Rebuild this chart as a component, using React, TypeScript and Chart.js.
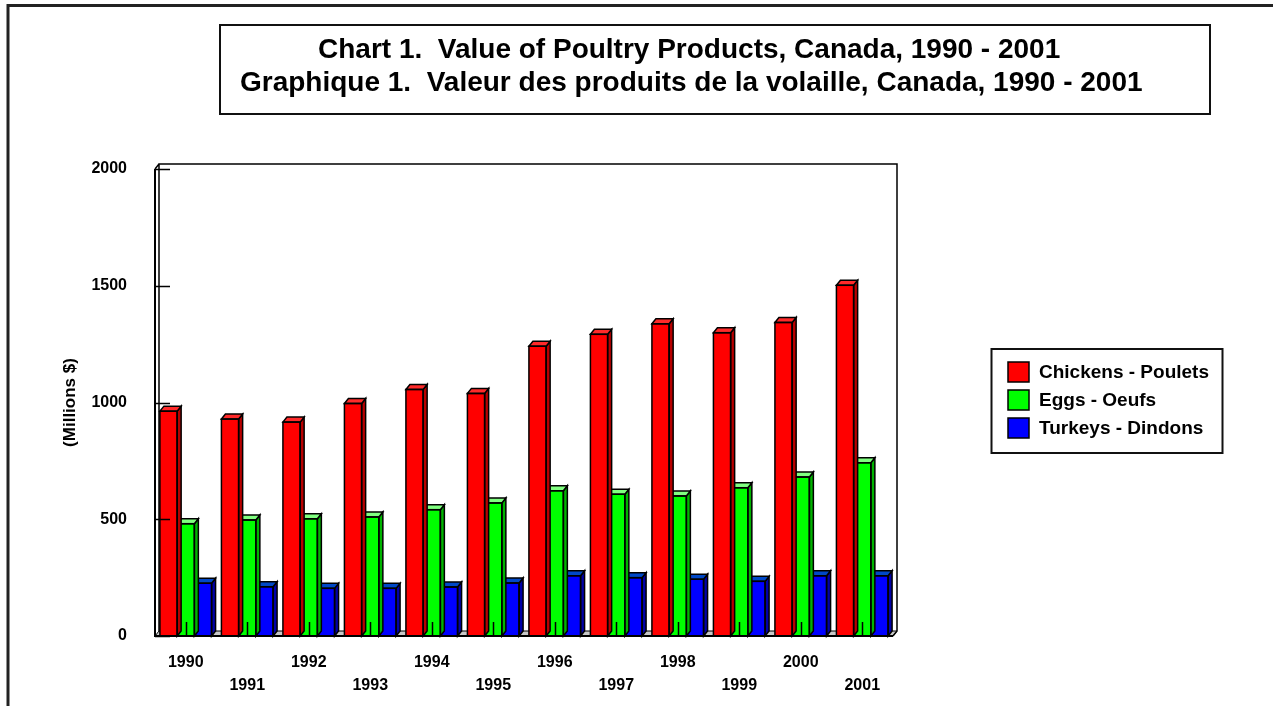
import React, { useEffect, useRef } from "react";
import { Chart, registerables } from "chart.js";

Chart.register(...registerables);

const years = ["1990", "1991", "1992", "1993", "1994", "1995", "1996", "1997", "1998", "1999", "2000", "2001"];
const chickens = [963, 929, 916, 996, 1056, 1039, 1241, 1292, 1337, 1299, 1343, 1502];
const eggs = [481, 497, 502, 510, 541, 570, 622, 607, 600, 635, 681, 742];
const turkeys = [226, 211, 204, 204, 210, 227, 258, 250, 243, 234, 258, 258];
const yTicks = [0, 500, 1000, 1500, 2000];
const seriesNames = ["Chickens - Poulets", "Eggs - Oeufs", "Turkeys - Dindons"];
const titleLines = [
  "Chart 1.  Value of Poultry Products, Canada, 1990 - 2001",
  "Graphique 1.  Valeur des produits de la volaille, Canada, 1990 - 2001",
];
const yTitle = "(Millions $)";

const FRONT = ["#ff0000", "#00ff00", "#0000ff"];
const TOP = ["#ff2a2a", "#80ff80", "#0048c8"];
const SIDE = ["#b80000", "#00b400", "#0000a8"];
const FONT = '"Liberation Sans", Arial, Helvetica, sans-serif';
const DX = 4;
const DY = 5;

function poly(ctx: CanvasRenderingContext2D, pts: number[][], fill: string) {
  ctx.beginPath();
  ctx.moveTo(pts[0][0], pts[0][1]);
  for (let i = 1; i < pts.length; i++) ctx.lineTo(pts[i][0], pts[i][1]);
  ctx.closePath();
  ctx.fillStyle = fill;
  ctx.fill();
  ctx.stroke();
}

const decoPlugin = {
  id: "deco3d",
  beforeDatasetsDraw(chart: any) {
    const { ctx, chartArea: a } = chart;
    ctx.save();
    ctx.strokeStyle = "#000";
    ctx.lineWidth = 1;
    poly(ctx, [[a.left, a.bottom], [a.left + DX, a.bottom - DY], [a.right + DX, a.bottom - DY], [a.right, a.bottom]], "#c8c8c8");
    ctx.lineWidth = 1.5;
    ctx.beginPath();
    ctx.moveTo(a.left + DX, a.bottom - DY);
    ctx.lineTo(a.left + DX, a.top - DY);
    ctx.lineTo(a.right + DX, a.top - DY);
    ctx.lineTo(a.right + DX, a.bottom - DY);
    ctx.lineTo(a.right, a.bottom);
    ctx.moveTo(a.left, a.top);
    ctx.lineTo(a.left + DX, a.top - DY);
    ctx.stroke();
    ctx.restore();
  },
  afterDatasetDraw(chart: any, args: any) {
    const { ctx } = chart;
    const idx = args.index;
    ctx.save();
    ctx.strokeStyle = "#000";
    ctx.lineWidth = 1.5;
    ctx.lineJoin = "miter";
    args.meta.data.forEach((el: any) => {
      const { x, y, base, width } = el.getProps(["x", "y", "base", "width"], true);
      const l = x - width / 2;
      const r = x + width / 2;
      poly(ctx, [[r, y], [r + DX, y - DY], [r + DX, base - DY], [r, base]], SIDE[idx]);
      poly(ctx, [[l, y], [l + DX, y - DY], [r + DX, y - DY], [r, y]], TOP[idx]);
      ctx.strokeRect(l, y, width, base - y);
    });
    ctx.restore();
  },
  afterDatasetsDraw(chart: any) {
    const { ctx, chartArea: a, scales } = chart;
    ctx.save();
    ctx.strokeStyle = "#000";
    ctx.lineWidth = 2;
    ctx.beginPath();
    ctx.moveTo(a.left, a.top);
    ctx.lineTo(a.left, a.bottom);
    ctx.lineTo(a.right, a.bottom);
    ctx.stroke();
    ctx.lineWidth = 1.5;
    ctx.beginPath();
    yTicks.forEach((v) => {
      const py = Math.round(scales.y.getPixelForValue(v)) + 0.5;
      ctx.moveTo(a.left, py);
      ctx.lineTo(a.left + 15, py);
    });
    years.forEach((_, i) => {
      const px = Math.round(scales.x.getPixelForTick(i)) + 0.5;
      ctx.moveTo(px, a.bottom);
      ctx.lineTo(px, a.bottom - 14);
    });
    ctx.stroke();
    ctx.restore();
  },
  afterDraw(chart: any) {
    const { ctx } = chart;
    ctx.save();
    ctx.strokeStyle = "#222";
    ctx.lineWidth = 3;
    ctx.strokeRect(8, 5.5, 1400, 1000);
    ctx.lineWidth = 2;
    ctx.strokeStyle = "#111";
    ctx.strokeRect(220, 25, 990, 89);
    ctx.fillStyle = "#000";
    ctx.font = `bold 28px ${FONT}`;
    ctx.textBaseline = "middle";
    ctx.textAlign = "left";
    ctx.fillText(titleLines[0], 318, 50);
    ctx.fillText(titleLines[1], 240, 83);
    ctx.lineWidth = 2;
    ctx.strokeRect(991.5, 349, 231, 104);
    ctx.font = `bold 19px ${FONT}`;
    seriesNames.forEach((name, i) => {
      const sy = 362 + i * 28;
      ctx.fillStyle = FRONT[i];
      ctx.fillRect(1008, sy, 21, 20);
      ctx.lineWidth = 1.5;
      ctx.strokeStyle = "#000";
      ctx.strokeRect(1008, sy, 21, 20);
      ctx.fillStyle = "#000";
      ctx.fillText(name, 1039, sy + 10.5);
    });
    ctx.restore();
  },
};

export default function App() {
  const ref = useRef<HTMLCanvasElement | null>(null);

  useEffect(() => {
    if (!ref.current) return;
    const mk = (label: string, data: number[], i: number) => ({
      label,
      data,
      backgroundColor: FRONT[i],
      borderColor: "#000",
      borderWidth: 0,
      categoryPercentage: 0.84,
      barPercentage: 1.0,
    });
    const chart = new Chart(ref.current, {
      type: "bar",
      data: {
        labels: years,
        datasets: [mk(seriesNames[0], chickens, 0), mk(seriesNames[1], eggs, 1), mk(seriesNames[2], turkeys, 2)],
      },
      options: {
        responsive: false,
        animation: false,
        devicePixelRatio: 1,
        layout: { padding: { left: 0, top: 169, right: 380, bottom: 0 } },
        plugins: { legend: { display: false }, tooltip: { enabled: false }, title: { display: false } },
        scales: {
          x: {
            grid: { display: false },
            border: { display: false },
            afterFit: (s: any) => {
              s.height = 70;
            },
            ticks: {
              autoSkip: false,
              maxRotation: 0,
              minRotation: 0,
              padding: 7,
              color: "#000",
              font: { family: FONT, size: 16, weight: "bold", lineHeight: 1.45 },
              callback: (_v: any, i: number) => (i % 2 === 0 ? years[i] : ["", years[i]]),
            },
          },
          y: {
            min: 0,
            max: 2000,
            grid: { display: false },
            border: { display: false },
            afterFit: (s: any) => {
              s.width = 155;
            },
            afterBuildTicks: (s: any) => {
              s.ticks = yTicks.map((v) => ({ value: v }));
            },
            ticks: {
              padding: 20,
              color: "#000",
              font: { family: FONT, size: 16, weight: "bold" },
              callback: (v: any) => String(v),
            },
            title: {
              display: true,
              text: yTitle,
              color: "#000",
              padding: { top: 60, bottom: 0 },
              font: { family: FONT, size: 17, weight: "bold" },
            },
          },
        },
      },
      plugins: [decoPlugin],
    } as any);
    return () => chart.destroy();
  }, []);

  return (
    <div style={{ position: "fixed", left: 0, top: 0, width: 1273, height: 706, background: "#fff" }}>
      <canvas ref={ref} width={1273} height={706} style={{ display: "block", width: 1273, height: 706 }} />
    </div>
  );
}
